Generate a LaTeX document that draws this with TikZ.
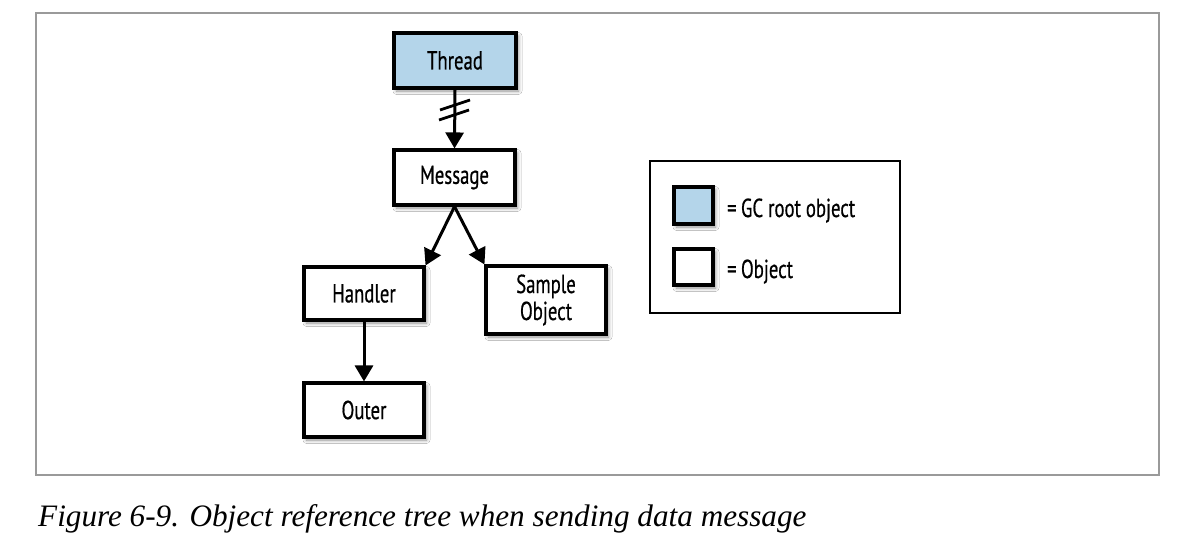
\documentclass[tikz,border=0pt]{standalone}
\usepackage{fontspec}
\setmainfont{Liberation Serif}
\newfontfamily\boxfont[FakeStretch=0.72,FakeBold=0.6]{PT Sans}
\usetikzlibrary{arrows.meta,shadows.blur,calc}
\definecolor{rootblue}{HTML}{B4D5EA}
\definecolor{framegray}{HTML}{9A9A9A}
\tikzset{
  obj/.style={draw=black, line width=3.1pt, fill=white, align=center,
    font=\boxfont\fontsize{26}{28}\selectfont, inner sep=0pt,
    blur shadow={shadow xshift=2.5pt, shadow yshift=-3pt, shadow blur steps=6, shadow blur radius=3.5pt, shadow opacity=45}},
  root/.style={obj, fill=rootblue},
  ref/.style={line width=3pt, -{Triangle[length=16pt,width=18pt]}},
  legtext/.style={font=\boxfont\fontsize{26}{28}\selectfont, inner sep=0pt, anchor=base west},
}
\begin{document}
\begin{tikzpicture}[x=1pt,y=-1pt]
\useasboundingbox (0,0) rectangle (1184,552);
\fill[white] (0,0) rectangle (1184,552);
\draw[framegray, line width=1.3pt] (36,13) rectangle (1159,475);

\node[root, minimum width=122pt, minimum height=55pt] (thread) at (455,60.5) {Thread};
\node[obj, minimum width=121pt, minimum height=55pt] (message) at (454.5,177.5) {Message};
\node[obj, minimum width=120pt, minimum height=53pt] (handler) at (364,293.5) {Handler};
\node[obj, minimum width=120pt, minimum height=68pt] (sample) at (546,300) {Sample\\[-1pt]Object};
\node[obj, minimum width=120pt, minimum height=54pt] (outer) at (364,410) {Outer};

\draw[ref] (thread.south) -- (message.north);
\coordinate (cut) at (455,105);
\draw[line width=2.8pt] ($(cut)+(-15,5)$) -- ($(cut)+(15,-5)$);
\draw[line width=2.8pt] ($(cut)+(-16,15)$) -- ($(cut)+(14,5)$);

\draw[ref] (message.south) -- (handler.north east);
\draw[ref] (message.south) -- (sample.north west);
\draw[ref] (handler.south) -- (outer.north);

\node[draw=black, line width=2.6pt, minimum width=250pt, minimum height=152pt, inner sep=0pt] (legend) at (775,237) {};
\node[root, minimum width=39pt, minimum height=37pt] (legroot) at (693.5,205.5) {};
\node[obj, minimum width=39pt, minimum height=36pt] (legobj) at (693.5,267) {};
\node[legtext] (legroottext) at (727,217) {=\,GC root object};
\node[legtext] (legobjtext) at (727,278) {=\,Object};

\node[anchor=base west, inner sep=0pt, font=\itshape\fontsize{31.2}{33}\selectfont] (caption) at (38,526) {Figure 6-9. Object reference tree when sending data message};
\end{tikzpicture}
\end{document}
